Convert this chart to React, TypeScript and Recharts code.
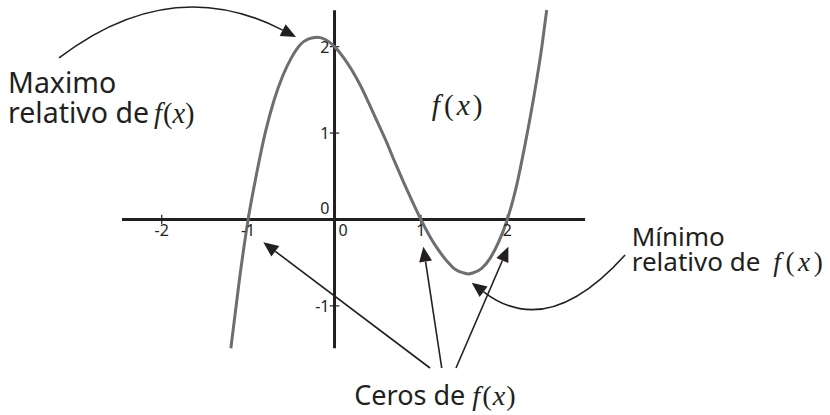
import React from 'react';
import { LineChart, Line, XAxis, YAxis, ReferenceLine, ReferenceDot } from 'recharts';

// curve
const curveX = [-1.2, -1.1, -1.0, -0.9, -0.8, -0.7, -0.6, -0.5, -0.4, -0.3, -0.2, -0.1, 0, 0.1, 0.2, 0.3, 0.4, 0.5, 0.6, 0.7, 0.8, 0.9, 1.0, 1.1, 1.2, 1.3, 1.4, 1.5, 1.55, 1.6, 1.7, 1.8, 1.9, 2.0, 2.1, 2.2, 2.3, 2.4, 2.456];
const curveY = [-1.49, -0.69, 0, 0.54, 1.01, 1.38, 1.66, 1.87, 2.02, 2.09, 2.11, 2.08, 2.0, 1.88, 1.73, 1.55, 1.34, 1.12, 0.9, 0.66, 0.43, 0.21, 0, -0.19, -0.35, -0.48, -0.58, -0.62, -0.63, -0.62, -0.57, -0.45, -0.26, 0, 0.36, 0.84, 1.38, 2.0, 2.425];

const xTicks = [-2, -1, 1, 2];
const xTickLabels = ['-2', '-1', '1', '2'];
const yTicks = [-1, 1, 2];
const yTickLabels = ['-1', '1', '2'];

const xAxisExtent = [-2.46, 2.9];
const yAxisExtent = [-1.49, 2.42];

const X_DOMAIN: [number, number] = [-3.872, 5.735];
const Y_DOMAIN: [number, number] = [-2.263, 2.54];

const data = curveX.map((x, i) => ({ x, y: curveY[i] }));

const INK = '#231f20';
const SANS = '"Noto Sans", "Open Sans", sans-serif';
const SERIF = '"Liberation Serif", serif';

const Fx = ({ dx = 0, gap = 1, size = '1.05em' }: { dx?: number; gap?: number; size?: string }) => (
  <>
    <tspan dx={dx} fontFamily={SERIF} fontStyle="italic" fontSize={size}>f</tspan>
    <tspan fontFamily={SERIF} dx={gap + 1} fontSize={size}>(</tspan>
    <tspan fontFamily={SERIF} fontStyle="italic" fontSize={size} dx={gap}>x</tspan>
    <tspan fontFamily={SERIF} fontSize={size} dx={gap}>)</tspan>
  </>
);

const arrowShape = (bend: number, skew = 0) => (p: any) => {
  const { x1, y1, x2, y2 } = p;
  const dx = x2 - x1;
  const dy = y2 - y1;
  const cx = (x1 + x2) / 2 + bend * dy + skew * dx;
  const cy = (y1 + y2) / 2 - bend * dx + skew * dy;
  let tx = x2 - cx;
  let ty = y2 - cy;
  const tl = Math.hypot(tx, ty) || 1;
  tx /= tl;
  ty /= tl;
  const head = 15;
  const hw = 6.5;
  const bx = x2 - tx * head;
  const by = y2 - ty * head;
  return (
    <g>
      <path d={`M${x1},${y1} Q${cx},${cy} ${bx},${by}`} fill="none" stroke={INK} strokeWidth={1.6} />
      <polygon
        points={`${x2},${y2} ${bx - ty * hw},${by + tx * hw} ${bx + ty * hw},${by - tx * hw}`}
        fill={INK}
      />
    </g>
  );
};

const textAt = (content: React.ReactNode, dx: number, dy: number, anchor = 'start', size = 16) => (p: any) => (
  <text x={p.cx + dx} y={p.cy + dy} textAnchor={anchor} fontFamily={SANS} fontSize={size} fill={INK}>
    {content}
  </text>
);

export default function App() {
  return (
    <div style={{ position: 'absolute', left: 0, top: 0, width: 830, height: 415, background: '#fff' }}>
      <LineChart width={830} height={415} data={data} margin={{ top: 0, right: 0, bottom: 0, left: 0 }}>
        <XAxis dataKey="x" type="number" domain={X_DOMAIN} hide allowDataOverflow />
        <YAxis type="number" domain={Y_DOMAIN} hide allowDataOverflow />

        <ReferenceLine segment={[{ x: xAxisExtent[0], y: 0 }, { x: xAxisExtent[1], y: 0 }]} stroke={INK} strokeWidth={3} />
        <ReferenceLine segment={[{ x: 0, y: yAxisExtent[0] }, { x: 0, y: yAxisExtent[1] }]} stroke={INK} strokeWidth={3} />
        {xTicks.map((t) => (
          <ReferenceLine key={'xt' + t} segment={[{ x: t, y: -0.055 }, { x: t, y: 0.055 }]} stroke={INK} strokeWidth={1.2} />
        ))}
        {yTicks.map((t) => (
          <ReferenceLine key={'yt' + t} segment={[{ x: -0.055, y: t }, { x: 0.055, y: t }]} stroke={INK} strokeWidth={1.2} />
        ))}
        {xTicks.map((t, i) => (
          <ReferenceDot key={'xl' + t} x={t} y={0} r={0} shape={textAt(xTickLabels[i], 0, 17, 'middle')} />
        ))}
        {yTicks.map((t, i) => (
          <ReferenceDot key={'yl' + t} x={0} y={t} r={0} shape={textAt(yTickLabels[i], -5, 6, 'end')} />
        ))}
        <ReferenceDot x={0} y={0} r={0} shape={textAt('0', 4, 17, 'start')} />
        <ReferenceDot x={0} y={0} r={0} shape={textAt('0', -5, -5, 'end')} />

        <Line type="monotoneX" dataKey="y" stroke="#6d6e71" strokeWidth={3} dot={false} activeDot={false} isAnimationActive={false} />

        {/* annotations */}
        <ReferenceLine segment={[{ x: -3.189, y: 1.869 }, { x: -0.446, y: 2.112 }]} shape={arrowShape(0.316)} />
        <ReferenceLine segment={[{ x: 3.363, y: -0.411 }, { x: 1.588, y: -0.731 }]} shape={arrowShape(0.455, 0.087)} />
        <ReferenceLine segment={[{ x: 1.105, y: -1.719 }, { x: -0.824, y: -0.264 }]} shape={arrowShape(0)} />
        <ReferenceLine segment={[{ x: 1.241, y: -1.719 }, { x: 1.028, y: -0.315 }]} shape={arrowShape(0)} />
        <ReferenceLine segment={[{ x: 1.406, y: -1.719 }, { x: 2.012, y: -0.315 }]} shape={arrowShape(0)} />

        <ReferenceDot
          x={-3.779}
          y={1.464}
          r={0}
          shape={(p: any) => (
            <text x={p.cx} y={p.cy} fontFamily={SANS} fontSize={28.5} fill={INK}>
              <tspan x={p.cx}>Maximo</tspan>
              <tspan x={p.cx} dy={30}>relativo de</tspan>
              <Fx dx={5} gap={0} size="1em" />
            </text>
          )}
        />
        <ReferenceDot
          x={3.44}
          y={-0.307}
          r={0}
          shape={(p: any) => (
            <text x={p.cx} y={p.cy} fontFamily={SANS} fontSize={26} fill={INK}>
              <tspan x={p.cx}>Mínimo</tspan>
              <tspan x={p.cx} dy={25}>relativo de</tspan>
              <Fx dx={13} gap={3.5} size="1.05em" />
            </text>
          )}
        />
        <ReferenceDot
          x={1.125}
          y={1.209}
          r={0}
          shape={(p: any) => (
            <text x={p.cx} y={p.cy} fontFamily={SANS} fontSize={28} fill={INK} letterSpacing={2}>
              <Fx />
            </text>
          )}
        />
        <ReferenceDot
          x={1.163}
          y={-2.147}
          r={0}
          shape={(p: any) => (
            <text x={p.cx} y={p.cy} textAnchor="middle" fontFamily={SANS} fontSize={27} fill={INK}>
              Ceros de <Fx />
            </text>
          )}
        />
      </LineChart>
    </div>
  );
}
